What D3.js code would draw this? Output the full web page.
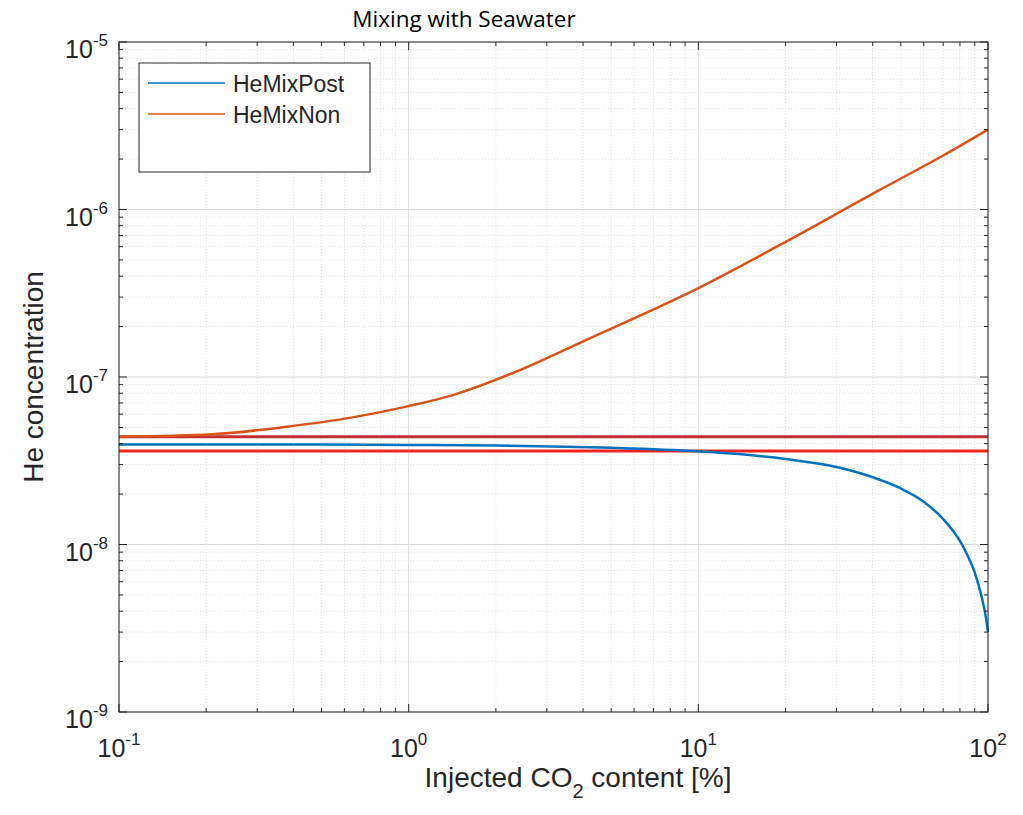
<!DOCTYPE html>
<html>
<head>
<meta charset="utf-8">
<script src="https://cdn.jsdelivr.net/npm/d3@7"></script>
<style>
  body { margin: 0; background: #fff; }
  svg { display: block; }
</style>
</head>
<body>
<div id="chart"></div>
<script>
// values
const xPost = [0.1, 0.5, 1, 2, 5, 10, 15, 20, 30, 40, 50, 60, 70, 80, 85, 90, 95, 98, 100];
const heMixPost = [3.96e-8, 3.95e-8, 3.93e-8, 3.9e-8, 3.78e-8, 3.6e-8, 3.42e-8, 3.24e-8, 2.9e-8, 2.52e-8,
  2.16e-8, 1.8e-8, 1.42e-8, 1.05e-8, 8.6e-9, 6.8e-9, 4.9e-9, 3.8e-9, 3.0e-9];
const xNon = [0.1, 0.21, 0.38, 0.64, 1, 1.42, 2.36, 3.9, 10, 19, 42, 70, 100];
const heMixNon = [4.4e-8, 4.55e-8, 5.05e-8, 5.74e-8, 6.7e-8, 7.8e-8, 1.08e-7, 1.6e-7, 3.39e-7,
  6.1e-7, 1.3e-6, 2.1e-6, 3.0e-6];
const refLevels = [4.4e-8, 3.62e-8];
const refColors = ['#c43030', '#f2231e'];
const seriesNames = ['HeMixPost', 'HeMixNon'];
const seriesColors = ['#0072BD', '#D95319'];
const xTicks = [-1, 0, 1, 2];
const yTicks = [-9, -8, -7, -6, -5];

const W = 1023, H = 815;
const margin = { left: 119, right: 35, top: 42, bottom: 103 };
const iw = W - margin.left - margin.right;
const ih = H - margin.top - margin.bottom;

const svg = d3.select('#chart').append('svg')
  .attr('width', W)
  .attr('height', H)
  .attr('font-family', 'Liberation Sans, Arial, sans-serif');

const x = d3.scaleLog().domain([0.1, 100]).range([0, iw]);
const y = d3.scaleLog().domain([1e-9, 1e-5]).range([ih, 0]);

const g = svg.append('g').attr('transform', `translate(${margin.left},${margin.top})`);

// minor ticks values
const minorX = [], minorY = [];
for (let e = -1; e < 2; e++) for (let k = 2; k < 10; k++) minorX.push(k * Math.pow(10, e));
for (let e = -9; e < -5; e++) for (let k = 2; k < 10; k++) minorY.push(k * Math.pow(10, e));
const majorX = xTicks.map(e => Math.pow(10, e));
const majorY = yTicks.map(e => Math.pow(10, e));

// grid
const grid = g.append('g');
grid.selectAll('.mgx').data(minorX).enter().append('line')
  .attr('x1', d => x(d)).attr('x2', d => x(d)).attr('y1', 0).attr('y2', ih)
  .attr('stroke', '#e4e4e4').attr('stroke-dasharray', '1,2');
grid.selectAll('.mgy').data(minorY).enter().append('line')
  .attr('y1', d => y(d)).attr('y2', d => y(d)).attr('x1', 0).attr('x2', iw)
  .attr('stroke', '#e4e4e4').attr('stroke-dasharray', '1,2');
grid.selectAll('.gx').data(majorX).enter().append('line')
  .attr('x1', d => x(d)).attr('x2', d => x(d)).attr('y1', 0).attr('y2', ih)
  .attr('stroke', '#dcdcdc');
grid.selectAll('.gy').data(majorY).enter().append('line')
  .attr('y1', d => y(d)).attr('y2', d => y(d)).attr('x1', 0).attr('x2', iw)
  .attr('stroke', '#dcdcdc');

// reference lines
g.selectAll('.ref').data(refLevels).enter().append('line')
  .attr('x1', 0).attr('x2', iw)
  .attr('y1', d => y(d)).attr('y2', d => y(d))
  .attr('stroke', (d, i) => refColors[i]).attr('stroke-width', 3);

// series
const line = d3.line().x(d => x(d[0])).y(d => y(d[1])).curve(d3.curveMonotoneX);
const series = [d3.zip(xPost, heMixPost), d3.zip(xNon, heMixNon)];
g.selectAll('.series').data(series).enter().append('path')
  .attr('fill', 'none')
  .attr('stroke', (d, i) => seriesColors[i])
  .attr('stroke-width', 2.5)
  .attr('d', line);

// axes box and ticks
const axisColor = '#262626';
const ax = g.append('g').attr('stroke', axisColor).attr('stroke-width', 1);
ax.append('rect').attr('x', 0).attr('y', 0).attr('width', iw).attr('height', ih).attr('fill', 'none');
[[majorX, 8], [minorX, 4]].forEach(([vals, len]) => {
  vals.forEach(v => {
    ax.append('line').attr('x1', x(v)).attr('x2', x(v)).attr('y1', ih).attr('y2', ih - len);
    ax.append('line').attr('x1', x(v)).attr('x2', x(v)).attr('y1', 0).attr('y2', len);
  });
});
[[majorY, 8], [minorY, 4]].forEach(([vals, len]) => {
  vals.forEach(v => {
    ax.append('line').attr('y1', y(v)).attr('y2', y(v)).attr('x1', 0).attr('x2', len);
    ax.append('line').attr('y1', y(v)).attr('y2', y(v)).attr('x1', iw).attr('x2', iw - len);
  });
});

// tick labels
const lblColor = '#262626';
xTicks.forEach(e => {
  const t = g.append('text').attr('x', x(Math.pow(10, e))).attr('y', ih + 45)
    .attr('text-anchor', 'middle').attr('font-size', 25).attr('fill', lblColor);
  t.append('tspan').text('10');
  t.append('tspan').attr('dy', -12).attr('font-size', 17).text(e);
});
yTicks.forEach(e => {
  const t = g.append('text').attr('x', -11).attr('y', y(Math.pow(10, e)) + 16)
    .attr('text-anchor', 'end').attr('font-size', 25).attr('fill', lblColor);
  t.append('tspan').text('10');
  t.append('tspan').attr('dy', -12).attr('font-size', 17).text(e);
});

// axis labels
const xl = g.append('text').attr('x', 459).attr('y', ih + 75)
  .attr('text-anchor', 'middle').attr('font-size', 28).attr('fill', lblColor);
xl.append('tspan').text('Injected CO');
xl.append('tspan').attr('dy', 11).attr('font-size', 20).text('2');
xl.append('tspan').attr('dy', -11).text(' content [%]');

g.append('text')
  .attr('transform', `translate(${-76},${ih / 2}) rotate(-90)`)
  .attr('text-anchor', 'middle').attr('font-size', 28).attr('fill', lblColor)
  .text('He concentration');

// title
svg.append('text').attr('x', 464).attr('y', 27)
  .attr('text-anchor', 'middle').attr('font-size', 22.5)
  .attr('font-family', 'Open Sans, sans-serif').attr('fill', '#000')
  .text('Mixing with Seawater');

// legend
const lg = g.append('g').attr('transform', 'translate(20,21)');
lg.append('rect').attr('width', 231).attr('height', 109)
  .attr('fill', '#fff').attr('stroke', axisColor).attr('stroke-width', 1);
seriesNames.forEach((name, i) => {
  const ly = 20 + i * 31;
  lg.append('line').attr('x1', 9).attr('x2', 86).attr('y1', ly).attr('y2', ly)
    .attr('stroke', seriesColors[i]).attr('stroke-width', 1.5);
  lg.append('text').attr('x', 94).attr('y', ly + 9).attr('font-size', 23)
    .attr('fill', lblColor).text(name);
});
</script>
</body>
</html>
